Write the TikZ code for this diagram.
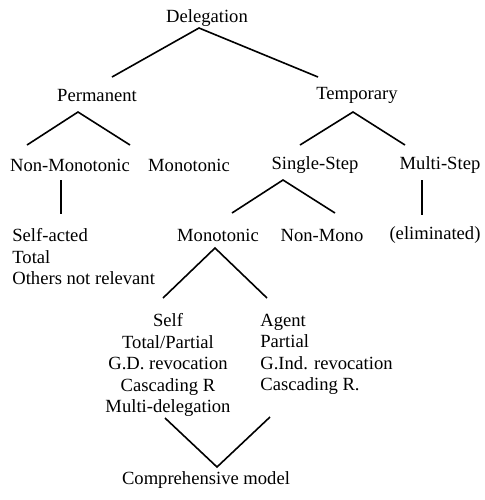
\documentclass[tikz,border=0pt]{standalone}
\usepackage{fontspec}
\setmainfont{Liberation Serif}
\tikzset{
  lbl/.style = {inner sep=0pt, font=\fontsize{9.3}{10.75}\selectfont},
  branch/.style = {line width=0.8pt, line join=miter}
}
\begin{document}
\begin{tikzpicture}[x=0.5pt, y=-0.5pt]
    \useasboundingbox (0, 0) rectangle (484, 500);

    \node [lbl] (deleg) at (207, 18) {Delegation};
    \node [lbl] (perm) at (97, 95) {Permanent};
    \node [lbl] (temp) at (357, 95) {Temporary};

    \node [lbl] (nonmon) at (70, 165) {Non-Monotonic};
    \node [lbl] (mon) at (189, 165) {Monotonic};
    \node [lbl] (single) at (315, 165) {Single-Step};
    \node [lbl] (multi) at (440, 165) {Multi-Step};

    \node [lbl, anchor=west, align=left] (selfact) at (12, 257) {Self-acted\\Total\\Others not relevant};
    \node [lbl] (monb) at (218, 235) {Monotonic};
    \node [lbl] (nonmono) at (322, 235) {Non-Mono};
    \node [lbl] (elim) at (435, 235) {(eliminated)};

    \node [lbl, align=center] (self) at (168, 365) {Self\\Total/Partial\\G.D. revocation\\Cascading R\\Multi-delegation};
    \node [lbl, anchor=west, align=left] (agent) at (260, 354.5) {Agent\\Partial\\G.Ind. revocation\\Cascading R.};

    \node [lbl] (compr) at (206, 480) {Comprehensive model};

    % apex and end points of the branches
    \coordinate (delegA) at (199, 28);
    \coordinate (permT) at (112, 77);
    \coordinate (tempT) at (318, 77);
    \coordinate (permA) at (78, 112);
    \coordinate (nonmonT) at (27, 145);
    \coordinate (monT) at (130, 145);
    \coordinate (tempA) at (353, 112);
    \coordinate (singleT) at (300, 145);
    \coordinate (multiT) at (405, 145);
    \coordinate (nonmonB) at (61, 180);
    \coordinate (selfactT) at (61, 214);
    \coordinate (multiB) at (422, 180);
    \coordinate (elimT) at (422, 215);
    \coordinate (singleA) at (283, 180);
    \coordinate (monbT) at (232, 213);
    \coordinate (nonmonoT) at (335, 213);
    \coordinate (monbA) at (215, 248);
    \coordinate (selfT) at (163, 298);
    \coordinate (agentT) at (267, 298);
    \coordinate (selfB) at (165, 418);
    \coordinate (comprA) at (217, 467);
    \coordinate (agentB) at (270, 417);

    \draw [branch] (permT) -- (delegA) -- (tempT);
    \draw [branch] (nonmonT) -- (permA) -- (monT);
    \draw [branch] (singleT) -- (tempA) -- (multiT);
    \draw [branch] (nonmonB) -- (selfactT);
    \draw [branch] (multiB) -- (elimT);
    \draw [branch] (monbT) -- (singleA) -- (nonmonoT);
    \draw [branch] (selfT) -- (monbA) -- (agentT);
    \draw [branch] (selfB) -- (comprA) -- (agentB);
\end{tikzpicture}
\end{document}
